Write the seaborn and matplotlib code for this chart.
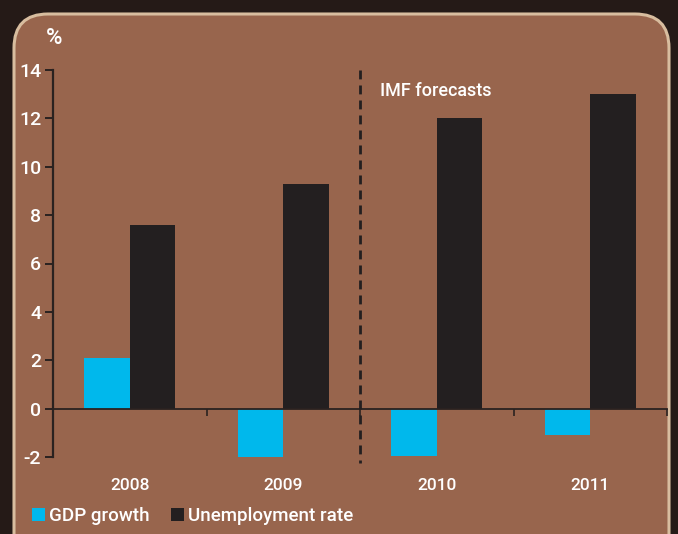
import matplotlib
matplotlib.use("Agg")
import matplotlib.pyplot as plt
import seaborn as sns
import pandas as pd
from matplotlib.patches import FancyBboxPatch, Patch
from matplotlib.transforms import IdentityTransform

years = ["2008", "2009", "2010", "2011"]
gdp_growth = [2.1, -2.0, -1.95, -1.1]
unemployment = [7.6, 9.3, 12.0, 13.0]
series_names = ["GDP growth", "Unemployment rate"]
y_ticks = [-2, 0, 2, 4, 6, 8, 10, 12, 14]

df = pd.DataFrame({
    "year": years * 2,
    "value": gdp_growth + unemployment,
    "series": [series_names[0]] * 4 + [series_names[1]] * 4,
})

sns.set_theme(style="white")
plt.rcParams["font.family"] = ["Roboto", "DejaVu Sans"]
plt.rcParams["font.weight"] = "medium"

BG = "#251a17"
PANEL = "#98654d"
BORDER = "#d8bd9f"
CYAN = "#00b8ec"
DARK = "#231f20"
AXC = "#2a2220"

fig = plt.figure(figsize=(6.78, 5.34), dpi=100, facecolor=BG)

panel = FancyBboxPatch((14, -40), 655, 560, boxstyle="round,pad=0,rounding_size=34",
                       transform=IdentityTransform(), facecolor=PANEL, edgecolor=BORDER,
                       linewidth=2.2, zorder=-10)
fig.patches.append(panel)

ax = fig.add_axes([53/678, 1 - 457/534, (667 - 53)/678, (457 - 70)/534])
ax.set_facecolor("none")
ax.set_zorder(5)

sns.barplot(data=df, x="year", y="value", hue="series", order=years,
            hue_order=series_names, palette=[CYAN, DARK], width=0.59,
            linewidth=0, saturation=1, ax=ax, legend=False)

ax.set_ylim(-2, 14)
ax.set_xlim(-0.5, 3.5)
ax.set_yticks(y_ticks)
ax.set_yticklabels([str(t) for t in y_ticks])
ax.set_xlabel("")
ax.set_ylabel("")

for s in ["top", "right"]:
    ax.spines[s].set_visible(False)
ax.spines["left"].set_color(AXC)
ax.spines["left"].set_linewidth(1.6)
ax.spines["bottom"].set_position(("data", 0))
ax.spines["bottom"].set_color(AXC)
ax.spines["bottom"].set_linewidth(1.3)

ax.tick_params(axis="y", which="major", direction="out", length=5.5, width=1.4,
               color=AXC, labelcolor="white", labelsize=14, pad=3, left=True)
ax.set_xticks([0, 1, 2, 3])
ax.set_xticklabels(years)
ax.set_xticks([0.5, 1.5, 2.5, 3.5], minor=True)
ax.tick_params(axis="x", which="major", length=0, pad=50, labelcolor="white",
               labelsize=12.5, bottom=True)
ax.tick_params(axis="x", which="minor", direction="out", length=5, width=1.2,
               color=AXC, bottom=True)

ax.plot([1.5, 1.5], [14, -2.25], color=DARK, linestyle=(0, (3.2, 2.2)),
        linewidth=2, clip_on=False, zorder=5)

ax.text(1.63, 13.15, "IMF forecasts", color="white", fontsize=13, va="center", ha="left")
fig.text(54/678, 1 - 39/534, "%", color="white", fontsize=16, ha="center", va="center",
         zorder=6)

handles = [Patch(facecolor=CYAN, edgecolor="none"), Patch(facecolor=DARK, edgecolor="none")]
leg = fig.legend(handles, series_names, loc="center left", bbox_to_anchor=(32/678, 1 - 516/534),
                 ncol=2, frameon=False, handlelength=0.7, handleheight=0.7,
                 handletextpad=0.2, columnspacing=1.15, fontsize=13.5,
                 labelcolor="white", borderaxespad=0, borderpad=0)
leg.set_zorder(6)

fig.savefig("out.png", dpi=100, facecolor=BG)
